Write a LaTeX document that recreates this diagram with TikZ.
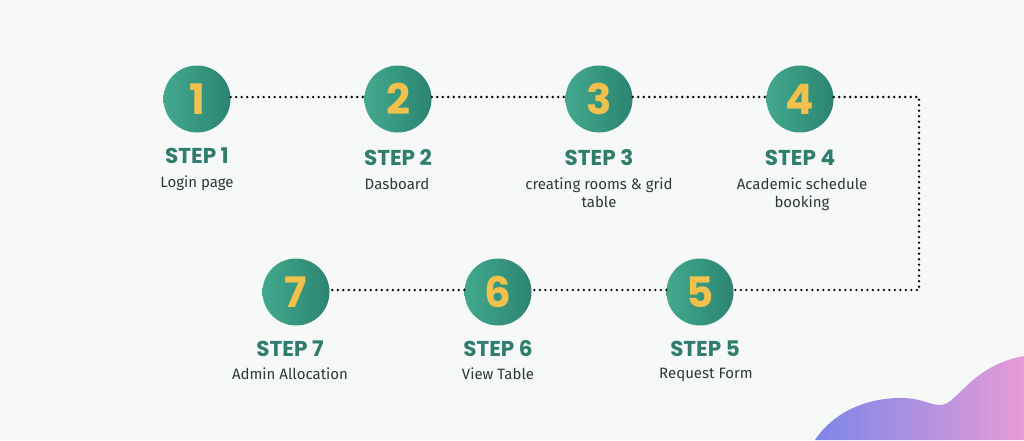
\documentclass[tikz,border=0pt]{standalone}
\usepackage{fontspec}
\setmainfont{Fira Sans}
\newfontfamily\stepfont{Poppins}
\definecolor{bgc}{HTML}{F7F8F8}
\definecolor{tealA}{HTML}{42A98D}
\definecolor{tealB}{HTML}{2B8472}
\definecolor{numc}{HTML}{F3C14B}
\definecolor{stepc}{HTML}{2E7D6D}
\definecolor{descc}{HTML}{303838}
\definecolor{blobA}{HTML}{7C86E8}
\definecolor{blobB}{HTML}{E69BD6}
\begin{document}
\begin{tikzpicture}[x=1pt,y=-1pt,
  stepcirc/.style={circle,minimum size=67pt,inner sep=0pt,left color=tealA,right color=tealB,
    text=numc,font=\stepfont\bfseries\fontsize{42}{42}\selectfont},
  steplabel/.style={text=stepc,font=\stepfont\bfseries\fontsize{21.5}{22}\selectfont,inner sep=0pt},
  desc/.style={text=descc,font=\fontsize{15}{17.5}\selectfont,align=center,inner sep=0pt,anchor=north},
  dotline/.style={line width=2.6pt,line cap=round,dash pattern=on 0pt off 5.5pt,black}]
\fill[bgc] (0,0) rectangle (1024,440);
\useasboundingbox (0,0) rectangle (1024,440);
% blob
\shade[left color=blobA,right color=blobB] (815,440) .. controls (835,410) and (870,397) .. (905,398)
  .. controls (925,399) and (935,408) .. (945,404)
  .. controls (960,398) and (975,365) .. (1024,356) -- (1024,440) -- cycle;
% circles
\node[stepcirc] (c1) at (197,99) {1};
\node[stepcirc] (c2) at (398,99) {2};
\node[stepcirc] (c3) at (599,99) {3};
\node[stepcirc] (c4) at (800,99) {4};
\node[stepcirc] (c5) at (700,292) {5};
\node[stepcirc] (c6) at (498,292) {6};
\node[stepcirc] (c7) at (296,292) {7};
\coordinate (k1) at (919,97);
\coordinate (k2) at (919,290);
% connectors
\draw[dotline] ([yshift=2pt]c1.east) -- ([yshift=2pt]c2.west);
\draw[dotline] ([yshift=2pt]c2.east) -- ([yshift=2pt]c3.west);
\draw[dotline] ([yshift=2pt]c3.east) -- ([yshift=2pt]c4.west);
\draw[dotline] ([yshift=2pt]c4.east) -- (k1) -- (k2) -- ([yshift=2pt]c5.east);
\draw[dotline] ([yshift=2pt]c5.west) -- ([yshift=2pt]c6.east);
\draw[dotline] ([yshift=2pt]c6.west) -- ([yshift=2pt]c7.east);
% labels
\node[steplabel] (s1) at (197,156) {STEP 1};
\node[steplabel] (s2) at (398,158) {STEP 2};
\node[steplabel] (s3) at (599,158) {STEP 3};
\node[steplabel] (s4) at (800,158) {STEP 4};
\node[steplabel] (s5) at (705,349) {STEP 5};
\node[steplabel] (s6) at (498,349) {STEP 6};
\node[steplabel] (s7) at (290,349) {STEP 7};
\node[desc] (d1) at (197,176) {Login page};
\node[desc] (d2) at (397,178) {Dasboard};
\node[desc] (d3) at (599,178) {creating rooms \& grid\\table};
\node[desc] (d4) at (802,178) {Academic schedule\\booking};
\node[desc] (d5) at (706,368) {Request Form};
\node[desc] (d6) at (498,368) {View Table};
\node[desc] (d7) at (290,368) {Admin Allocation};
\end{tikzpicture}
\end{document}
